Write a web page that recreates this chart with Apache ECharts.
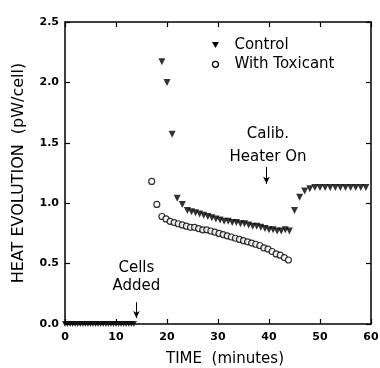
<!DOCTYPE html>
<html><head><meta charset="utf-8">
<script src="https://cdn.jsdelivr.net/npm/echarts@6/dist/echarts.min.js"></script>
<style>html,body{margin:0;padding:0;background:#fff}#c{width:380px;height:368px}</style>
</head><body><div id="c"></div>
<script>
var baseT = [0,0.5,1,1.5,2,2.5,3,3.5,4,4.5,5,5.5,6,6.5,7,7.5,8,8.5,9,9.5,10,10.5,11,11.5,12,12.5,13,13.5];
var baseV = [0,0,0,0,0,0,0,0,0,0,0,0,0,0,0,0,0,0,0,0,0,0,0,0,0,0,0,0];
var controlT = [19,20,21,22,23,24,24.8,25.6,26.4,27.2,28,28.8,29.6,30.4,31.2,32,32.8,33.6,34.4,35.2,36,36.8,37.6,38.4,39.2,40,40.8,41.6,42.4,43.2,44,45,46,47,48,49,50,51,52,53,54,55,56,57,58,59];
var controlV = [2.17,2.00,1.57,1.04,0.99,0.94,0.93,0.92,0.91,0.90,0.89,0.88,0.87,0.86,0.85,0.85,0.84,0.84,0.83,0.83,0.82,0.81,0.81,0.80,0.79,0.78,0.78,0.77,0.77,0.78,0.77,0.94,1.05,1.10,1.12,1.13,1.13,1.13,1.13,1.13,1.13,1.13,1.13,1.13,1.13,1.13];
var toxT = [17,18,19,19.8,20.6,21.4,22.2,23,23.8,24.6,25.4,26.2,27,27.8,28.6,29.4,30.2,31,31.8,32.6,33.4,34.2,35,35.8,36.6,37.4,38.2,39,39.8,40.6,41.4,42.2,43,43.8];
var toxV = [1.18,0.99,0.89,0.87,0.85,0.84,0.83,0.82,0.81,0.80,0.80,0.79,0.78,0.78,0.77,0.76,0.75,0.74,0.73,0.72,0.71,0.70,0.69,0.68,0.67,0.66,0.65,0.63,0.62,0.60,0.58,0.57,0.55,0.53];
var xTicks = [0,10,20,30,40,50,60];
var yTicks = [0.0,0.5,1.0,1.5,2.0,2.5];

function pairs(a,b){return a.map(function(t,i){return [t,b[i]];});}
var chart = echarts.init(document.getElementById('c'));
var font = '"DejaVu Sans", sans-serif';
function axisCommon(){ return {
  axisLine:{show:true,onZero:false,lineStyle:{color:'#000',width:1.5}},
  axisTick:{show:true,inside:true,length:5,lineStyle:{color:'#000',width:1.2}},
  splitLine:{show:false}
};}
chart.setOption({
  animation:false,
  grid:{left:65,right:9,top:22,bottom:44,containLabel:false,outerBoundsMode:'none'},
  xAxis:[Object.assign({type:'value',min:0,max:60,interval:10,
    name:'TIME  (minutes)',nameLocation:'middle',nameGap:28,
    nameTextStyle:{color:'#000',fontSize:15,fontFamily:font,padding:[0,0,0,14]},
    axisLabel:{color:'#000',fontSize:11,fontWeight:'bold',fontFamily:font,margin:8,
      formatter:function(v){return xTicks.indexOf(v)>=0?String(v):'';}}},axisCommon()),
    Object.assign({type:'value',min:0,max:60,interval:10,position:'top',axisLabel:{show:false}},axisCommon())],
  yAxis:[Object.assign({type:'value',min:0,max:2.5,interval:0.5,
    name:'HEAT EVOLUTION  (pW/cell)',nameLocation:'middle',nameGap:38,
    nameTextStyle:{color:'#000',fontSize:16,fontFamily:font},
    axisLabel:{color:'#000',fontSize:11,fontWeight:'bold',fontFamily:font,margin:6,
      formatter:function(v){return v.toFixed(1);}}},axisCommon()),
    Object.assign({type:'value',min:0,max:2.5,interval:0.5,position:'right',axisLabel:{show:false}},axisCommon())],
  series:[
    {type:'scatter',data:pairs(baseT,baseV),symbol:'triangle',symbolRotate:180,symbolSize:6,
     itemStyle:{color:'#000'},silent:true},
    {type:'scatter',name:'Control',data:pairs(controlT,controlV),symbol:'triangle',symbolRotate:180,symbolSize:7,
     itemStyle:{color:'#000'}},
    {type:'scatter',name:'With Toxicant',data:pairs(toxT,toxV),symbol:'circle',symbolSize:6,
     itemStyle:{color:'#fff',borderColor:'#000',borderWidth:1.2}},
    {type:'line',data:[],markLine:{silent:true,symbol:['none','arrow'],symbolSize:[5,7],
      lineStyle:{color:'#000',width:1,type:'solid'},label:{show:false},
      data:[[{coord:[14,0.18]},{coord:[14,0.05]}],[{coord:[39.5,1.30]},{coord:[39.5,1.16]}]]}}
  ]
});
function px(p){return chart.convertToPixel({xAxisIndex:0,yAxisIndex:0},p);}
function tf(t,size,align){return {text:t,fill:'#000',fontSize:size,fontFamily:font,align:align||'center',verticalAlign:'middle'};}
var p1=px([14,0.465]), p2=px([14,0.31]), p3=px([39.8,1.57]), p4=px([39.8,1.38]);
var lg1=px([29.5,2.31]), lg2=px([29.5,2.15]);
chart.setOption({graphic:[
  {type:'text',x:p1[0],y:p1[1],style:tf('Cells',15)},
  {type:'text',x:p2[0],y:p2[1],style:tf('Added',15)},
  {type:'text',x:p3[0],y:p3[1],style:tf('Calib.',15)},
  {type:'text',x:p4[0],y:p4[1],style:tf('Heater On',15)},
  {type:'text',x:lg1[0]+19,y:lg1[1],style:tf('Control',15,'left')},
  {type:'text',x:lg2[0]+19,y:lg2[1],style:tf('With Toxicant',15,'left')},
  {type:'polygon',shape:{points:[[lg1[0]-3.5,lg1[1]-3],[lg1[0]+3.5,lg1[1]-3],[lg1[0],lg1[1]+3]]},style:{fill:'#000'}},
  {type:'circle',shape:{cx:lg2[0],cy:lg2[1],r:3},style:{fill:'#fff',stroke:'#000',lineWidth:1.2}}
]});
</script></body></html>
